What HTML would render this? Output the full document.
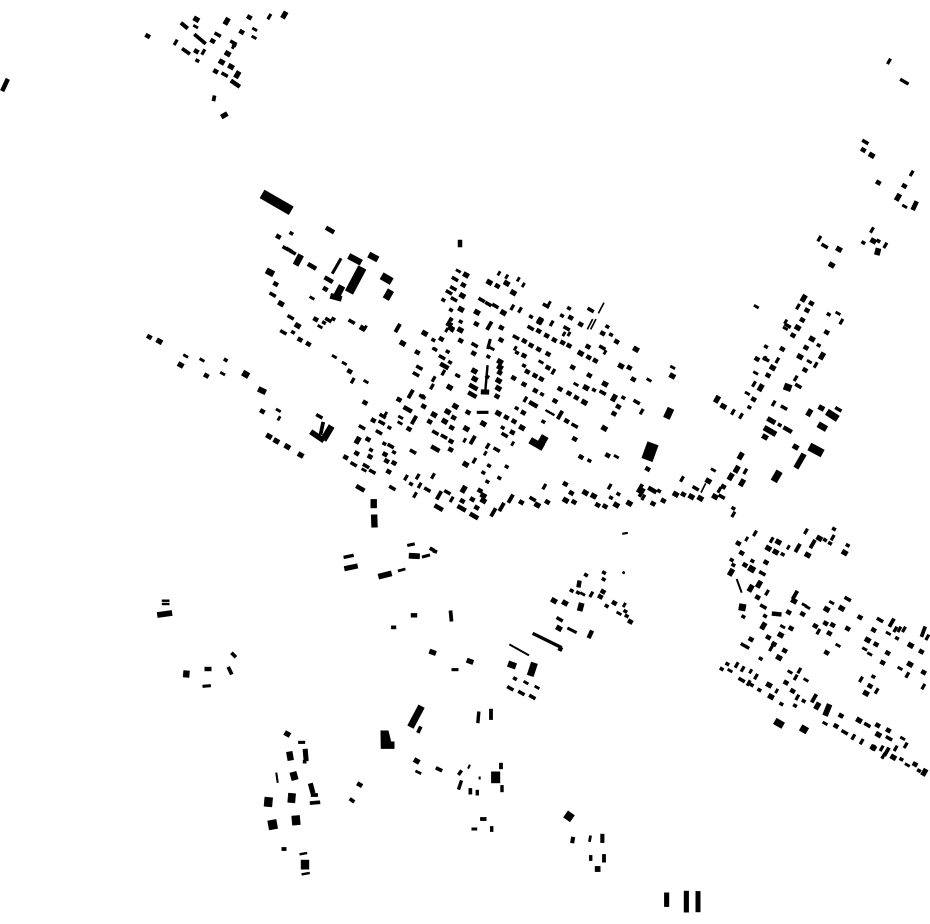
<!DOCTYPE html>
<html><head><meta charset="utf-8"><style>
html,body{margin:0;padding:0;background:#fff}
svg{display:block;position:absolute;left:0;top:0}
polyline{fill:none;stroke:none}
rect,polygon,circle{stroke:#000;stroke-width:1.2}
marker rect{stroke:#000;stroke-width:2.6}
.n{marker:url(#n)}.s{marker:url(#s)}.m{marker:url(#m)}.b{marker:url(#b)}.t{marker:url(#t)}.u{marker:url(#u)}.l{marker:url(#l)}.v{marker:url(#v)}.w{marker:url(#w)}.x{marker:url(#x)}.c{marker:url(#c)}
.k{fill:none;stroke:#000}
</style></head><body>
<svg width="930" height="924" viewBox="0 0 930 924" xmlns="http://www.w3.org/2000/svg">
<defs>
<marker id="n" markerUnits="userSpaceOnUse" markerWidth="1" markerHeight="1" overflow="visible"><rect x="-5" y="-4" width="10" height="8" transform="rotate(30)"/></marker>
<marker id="s" markerUnits="userSpaceOnUse" markerWidth="1" markerHeight="1" overflow="visible"><rect x="-6.5" y="-5.5" width="13" height="11" transform="rotate(30)"/></marker>
<marker id="m" markerUnits="userSpaceOnUse" markerWidth="1" markerHeight="1" overflow="visible"><rect x="-8" y="-6.5" width="16" height="13" transform="rotate(30)"/></marker>
<marker id="b" markerUnits="userSpaceOnUse" markerWidth="1" markerHeight="1" overflow="visible"><rect x="-11" y="-8" width="22" height="16" transform="rotate(30)"/></marker>
<marker id="t" markerUnits="userSpaceOnUse" markerWidth="1" markerHeight="1" overflow="visible"><rect x="-9.500" y="-4" width="19" height="8" transform="rotate(30)"/></marker>
<marker id="u" markerUnits="userSpaceOnUse" markerWidth="1" markerHeight="1" overflow="visible"><rect x="-7" y="-3" width="14" height="6" transform="rotate(30)"/></marker>
<marker id="l" markerUnits="userSpaceOnUse" markerWidth="1" markerHeight="1" overflow="visible"><rect x="-13" y="-5.500" width="26" height="11" transform="rotate(30)"/></marker>
<marker id="v" markerUnits="userSpaceOnUse" markerWidth="1" markerHeight="1" overflow="visible"><rect x="-8" y="-3.500" width="16" height="7" transform="rotate(-60)"/></marker>
<marker id="w" markerUnits="userSpaceOnUse" markerWidth="1" markerHeight="1" overflow="visible"><rect x="-13" y="-4.500" width="26" height="9" transform="rotate(-60)"/></marker>
<marker id="x" markerUnits="userSpaceOnUse" markerWidth="1" markerHeight="1" overflow="visible"><rect x="-10" y="-6.500" width="20" height="13" transform="rotate(-60)"/></marker>
<marker id="c" markerUnits="userSpaceOnUse" markerWidth="1" markerHeight="1" overflow="visible"><rect x="-6" y="-3" width="12" height="6" transform="rotate(-60)"/></marker>
</defs>

<!-- central town -->
<g transform="translate(340 260) scale(.33333)">
<polyline class="m" points="378 45 448 67 500 70 520 98 367 107 363 148 411 157 328 193 361 210 254 220 188 250 329 382 403 333 346 439 323 455 282 464 314 484 379 506 430 491 475 460 546 503 377 613 490 158 600 183 722 280 843 318 888 268 795 372 733 427 793 505 761 708 736 698 677 721 592 735 829 735 868 730 480 305 480 322 476 362 475 385 738 383 404 357 333 205 430 707 430 722 68 205"/>
<polyline class="s" points="370 75 472 78 362 242 304 237 232 277 401 280 409 192 177 419 251 439 341 473 269 485 335 503 333 544 332 569 384 457 100 481 84 538 50 580 90 590 135 583 140 603 162 609 146 635 17 592 207 507 75 428 479 338 471 409 484 203 483 240 367 723 397 718 420 692 410 743 544 727 622 726 676 672 694 699 702 726 773 735 795 739 939 731 692 173 722 193 573 256 668 248 687 257 746 292 766 302 744 260 830 245 868 323 880 358 748 346 698 322 562 335 585 347 604 357 521 354 552 373 586 392 660 387 687 400 709 413 645 423 550 458 680 483 499 472 522 484 517 517 704 537 723 591 803 586 835 440 822 461 923 627 788 220 553 243 596 268 624 282 552 287 596 213 620 227 643 240 624 323 29 334"/>
<polyline class="n" points="310 120 333 150 362 185 333 178 280 240 285 268 323 275 330 307 353 347 445 290 442 350 573 170 687 145 666 167 802 200 813 224 762 390 850 413 552 317 606 403 530 445 610 485 488 503 148 503 133 551 93 570 162 577 447 617 500 620 478 654 442 665 748 602 813 713 835 702 957 693 213 672 531 278 430 638"/>
<polyline class="t" points="345 57 340 85 327 97 342 118 404 255 306 292 238 323 228 343 247 410 66 502 152 558 704 497 125 488 117 517 286 518 312 530 528 232 572 204 470 569 494 525 157 684 578 717 890 426 35 185 262 689 322 697 97 635 41 613 219 575 788 398"/>
<polyline class="u" points="355 33 284 268 13 310 78 365 182 472 180 489 927 360 829 590 708 373 790 398 353 347 603 306"/>
<polyline class="l" points="61 685 296 743 580 433 203 448 286 566 313 318 402 768 937 690 365 745 400 381 397 404"/>
<polyline class="v" points="517 142 540 150 635 190 556 418 613 680 809 680 822 414 905 455 910 712 640 335 38 362 443 558 403 602 335 718 233 650 239 676 225 705 198 653 279 648 281 357 276 380 310 338 53 541"/>
<polyline class="w" points="173 204 212 402 448 197 398 540 660 465 512 716 485 741 460 757 297 706 900 685 905 698 222 480"/>
<polyline class="c" points="477 40 500 50 535 58 550 75 436 580 518 551 374 541 248 410 330 180 76 203 137 462 628 130 526 265 672 222 687 222 795 277 320 210 338 210"/>
<polyline class="x" points="822 414 600 183 53 541 371 688"/>
<polyline class="t" points="425 120 445 132 466 138 618 137 752 150 128 468 78 618 680 205 787 263"/>
<polyline class="u" points="456 266 72 630"/>
<rect transform="translate(930 575) rotate(20)" x="-17" y="-26" width="34" height="52"/>
<rect transform="translate(439 358) rotate(-85)" x="-42" y="-3" width="84" height="6"/>
<rect transform="translate(435 396) rotate(2)" x="-12" y="-7" width="24" height="14"/>
<rect transform="translate(447 252) rotate(-75)" x="-15" y="-4" width="30" height="8"/>
<rect transform="translate(428 457)" x="-17" y="-4" width="34" height="8"/>
<rect transform="translate(630 458) rotate(30)" x="-15" y="-3" width="30" height="6"/>
<rect transform="translate(590 552) rotate(30)" x="-22" y="-10" width="44" height="20"/>
<rect transform="translate(606 545) rotate(-60)" x="-19" y="-11" width="38" height="22"/>
<rect transform="translate(101 731)" x="-9" y="-13" width="18" height="26"/>
<rect transform="translate(103 783) rotate(-2)" x="-9" y="-19" width="18" height="38"/>
<path class="k" stroke-width="5" d="M768 177L752 208M758 177L742 208M792 128L775 160"/>
</g>

<!-- west cluster -->
<g transform="translate(140 180) scale(.33333)">
<rect transform="translate(410 67) rotate(30)" x="-50" y="-14" width="100" height="28"/>
<rect transform="translate(590 258) rotate(-60)" x="-26" y="-4" width="52" height="8"/>
<rect transform="translate(645 238) rotate(28)" x="-21" y="-9" width="42" height="18"/>
<rect transform="translate(700 231) rotate(28)" x="-15" y="-9" width="30" height="18"/>
<rect transform="translate(647 300) rotate(-62)" x="-42" y="-13" width="84" height="26"/>
<rect transform="translate(740 296) rotate(30)" x="-17" y="-11" width="34" height="22"/>
<rect transform="translate(745 344) rotate(-60)" x="-15" y="-10" width="30" height="20"/>
<rect transform="translate(475 240) rotate(-62)" x="-17" y="-9" width="34" height="18"/>
<rect transform="translate(598 333) rotate(-62)" x="-17" y="-10" width="34" height="20"/>
<rect transform="translate(588 352) rotate(15)" x="-17" y="-8" width="34" height="16"/>
<rect transform="translate(366 632) rotate(25)" x="-12" y="-8" width="24" height="16"/>
<rect transform="translate(317 583) rotate(30)" x="-10" y="-9" width="20" height="18"/>
<rect transform="translate(390 277) rotate(28)" x="-12" y="-9" width="24" height="18"/>
<path class="k" stroke-width="17" d="M512 755L552 782"/>
<path class="k" stroke-width="20" d="M550 780L575 738"/>
<rect transform="translate(545 748) rotate(12)" x="-5" y="-22" width="10" height="38"/>
<polyline class="l" points="570 150 516 259 566 299"/>
<polyline class="t" points="448 210 398 344 452 412 430 457 538 709 565 420"/>
<polyline class="t" points="437 205 458 217"/>
<polyline class="s" points="415 170 407 312 480 479 505 492 28 471 199 587 367 694 527 418 556 327"/>
<polyline class="m" points="423 371 473 437 58 484 122 555 387 769 409 783 442 800 482 825"/>
<polyline class="n" points="454 160 459 457 552 428 257 540 580 417"/>
<polyline class="u" points="516 354 540 440 137 528 186 540 248 581 415 691 583 530"/>
<polyline class="c" points="417 715"/>
</g>

<!-- east -->
<g transform="translate(640 280) scale(.33333)">
<polyline class="x" points="491 55 231 358 508 398 546 228 302 528 290 568 272 590 306 608 362 323"/>
<polyline class="s" points="514 70 501 91 487 120 459 166 560 157 498 203 427 207 495 270 351 237 384 286 341 358 130 643 250 620 70 662"/>
<polyline class="m" points="473 143 516 177 480 230 398 263 250 379 544 384 375 471 467 501 205 603 181 655 154 650 107 643 225 650 97 288"/>
<polyline class="n" points="566 103 536 196 378 200 328 382 419 435 280 685"/>
<polyline class="v" points="474 80 604 125 412 241 467 295 342 312 401 370 303 408 279 396 316 574 126 597 280 703 527 255 238 630"/>
<polyline class="u" points="349 80 594 100 436 145 508 245 347 279 322 340 220 570 98 262"/>
<polyline class="t" points="432 383 595 388 245 650 475 318 443 137 167 625"/>
<polyline class="c" points="437 125 375 235"/>
<polyline class="t" points="378 238"/>
<rect transform="translate(443 322) rotate(20)" x="-11" y="-10" width="22" height="20"/>
<rect transform="translate(577 406) rotate(33)" x="-19" y="-10" width="38" height="20"/>
<rect transform="translate(394 422) rotate(30)" x="-13" y="-7" width="26" height="14"/>
<rect transform="translate(390 453) rotate(30)" x="-20" y="-8" width="40" height="16"/>
<rect transform="translate(443 449) rotate(30)" x="-14" y="-6" width="28" height="12"/>
<rect transform="translate(547 440) rotate(30)" x="-14" y="-9" width="28" height="18"/>
<rect transform="translate(528 510) rotate(28)" x="-22" y="-12" width="44" height="24"/>
<rect transform="translate(480 543) rotate(-60)" x="-24" y="-8" width="48" height="16"/>
<rect transform="translate(410 589) rotate(-60)" x="-17" y="-10" width="34" height="20"/>
<rect transform="translate(86 400) rotate(-65)" x="-16" y="-10" width="32" height="20"/>
<path class="k" stroke-width="5" d="M197 610L183 638"/>
</g>

<!-- south-east -->
<g transform="translate(710 520) scale(.33333)">
<polyline class="v" points="288 34 135 40 185 60 368 53 171 218 453 478 500 513 592 465 640 500 652 352 430 651 455 665 587 676 557 685 183 385 325 335 80 435 98 447 138 470 116 489 268 452 257 472 262 532 556 328 568 328 582 328 490 683 515 685 520 708"/>
<polyline class="c" points="110 57 235 82 122 454 200 513"/>
<polyline class="n" points="372 27 218 103 345 60 360 70 413 76 65 120 70 135 127 123 100 290 165 288 152 416 561 355 490 470 35 447 52 432 125 495 148 510 214 552 255 557 281 543 574 718 627 752"/>
<polyline class="s" points="85 70 95 99 105 135 168 127 143 232 236 277 278 282 243 325 175 352 192 372 224 392 123 358 450 292 491 330 316 318 347 310 368 315 358 340 413 326 350 398 498 373 533 399 634 395 518 428 641 457 480 498 228 488 248 513 393 587 503 616 535 631 378 618 615 733"/>
<polyline class="m" points="205 66 175 85 197 96 293 105 328 55 404 98 97 262 252 243 207 413 350 268 395 265 473 360 602 376 600 433 468 520 177 495 183 530 447 601 505 644 490 683 550 712 212 345"/>
<polyline class="t" points="157 160 160 260 413 237 510 300 95 480 472 615 404 637 537 655"/>
<polyline class="u" points="218 320 365 248 535 340 384 376 464 387 479 402 570 445 60 452 240 456 288 480 578 655 345 610 592 735"/>
<polyline class="w" points="263 84 308 72 255 225 545 308 530 695 312 535"/>
<polyline class="x" points="63 157 147 193 122 205 160 318 322 558 643 757"/>
<rect transform="translate(125 147) rotate(30)" x="-10" y="-9" width="20" height="18"/>
<rect transform="translate(97 262) rotate(10)" x="-10" y="-10" width="20" height="20"/>
<rect transform="translate(200 282) rotate(6)" x="-14" y="-6" width="28" height="12"/>
<rect transform="translate(105 378) rotate(30)" x="-14" y="-4.500" width="28" height="9"/>
<rect transform="translate(352 570) rotate(-68)" x="-18" y="-8" width="36" height="16"/>
<rect transform="translate(640 335) rotate(-70)" x="-16" y="-5" width="32" height="10"/>
<rect transform="translate(207 610) rotate(30)" x="-14" y="-10" width="28" height="20"/>
<rect transform="translate(282 628) rotate(30)" x="-11" y="-10" width="22" height="20"/>
<path class="k" stroke-width="6" d="M80 177L95 218"/>
<polyline class="u" points="283 255 293 262"/>
</g>

<!-- north-west hamlet -->
<g transform="translate(140 0) scale(.33333)">
<polyline class="s" points="23 108 328 52 305 96 218 123 169 154 227 214"/>
<polyline class="m" points="169 58 263 161 245 186 273 200"/>
<polyline class="u" points="167 80 344 88 342 112"/>
<polyline class="v" points="388 50 107 127 190 156"/>
<polyline class="x" points="260 64 433 45 292 224"/>
<polyline class="t" points="233 104 254 224 280 128"/>
<polyline class="n" points="172 182 283 135"/>
<polyline class="c" points="280 140"/>
<rect transform="translate(133 77) rotate(40)" x="-13" y="-5.500" width="26" height="11"/>
<rect transform="translate(180 117) rotate(40)" x="-22" y="-5" width="44" height="10"/>
<rect transform="translate(138 154) rotate(35)" x="-14" y="-5" width="28" height="10"/>
<rect transform="translate(286 251) rotate(35)" x="-16" y="-6" width="32" height="12"/>
<rect transform="translate(222 295) rotate(-80)" x="-8" y="-5" width="16" height="10"/>
<rect transform="translate(253 346) rotate(-30)" x="-10" y="-7" width="20" height="14"/>
</g>

<!-- north-east -->
<g transform="translate(810 50) scale(.33333)">
<polyline class="v" points="237 34 305 370 186 540 28 566 226 586"/>
<polyline class="t" points="166 276 44 588"/>
<polyline class="s" points="160 300 205 398 283 408"/>
<polyline class="m" points="185 316 87 598 65 645 190 573"/>
<polyline class="n" points="160 578 205 573"/>
<polyline class="u" points="284 469"/>
<polyline class="x" points="264 442"/>
<rect transform="translate(283 95) rotate(30)" x="-14" y="-4.500" width="28" height="9"/>
<rect transform="translate(314 467) rotate(-65)" x="-14" y="-6.500" width="28" height="13"/>
<rect transform="translate(203 605) rotate(15)" x="-8" y="-10" width="16" height="20"/>
</g>

<!-- south-west -->
<g transform="translate(150 490) scale(.33333)">
<rect transform="translate(596 199) rotate(-12)" x="-15" y="-4.500" width="30" height="9"/>
<rect transform="translate(603 232) rotate(-12)" x="-20" y="-7" width="40" height="14"/>
<rect transform="translate(705 255) rotate(-14)" x="-20" y="-8" width="40" height="16"/>
<rect transform="translate(755 240) rotate(-15)" x="-11" y="-3.500" width="22" height="7"/>
<rect transform="translate(783 164) rotate(-12)" x="-11" y="-4" width="22" height="8"/>
<rect transform="translate(793 198) rotate(3)" x="-16" y="-8" width="32" height="16"/>
<rect transform="translate(828 198) rotate(-15)" x="-12" y="-4" width="24" height="8"/>
<rect transform="translate(846 178) rotate(30)" x="-7" y="-5" width="14" height="10"/>
<rect transform="translate(855 184) rotate(20)" x="-6" y="-5" width="12" height="10"/>
<rect transform="translate(47 332)" x="-11" y="-3" width="22" height="6"/>
<rect transform="translate(47 342)" x="-11" y="-3" width="22" height="6"/>
<rect transform="translate(44 372) rotate(-8)" x="-22" y="-8" width="44" height="16"/>
<rect transform="translate(792 376)" x="-9" y="-6" width="18" height="12"/>
<rect transform="translate(731 412)" x="-7" y="-5" width="14" height="10"/>
<rect transform="translate(848 487) rotate(20)" x="-10" y="-7" width="20" height="14"/>
<rect transform="translate(251 495) rotate(45)" x="-9" y="-5" width="18" height="10"/>
<rect transform="translate(240 542) rotate(65)" x="-12" y="-5" width="24" height="10"/>
<rect transform="translate(174 537)" x="-10" y="-6" width="20" height="12"/>
<rect transform="translate(109 552) rotate(5)" x="-9" y="-10" width="18" height="20"/>
<rect transform="translate(170 588) rotate(-5)" x="-12" y="-4" width="24" height="8"/>
</g>

<!-- south centre -->
<g transform="translate(450 525) scale(.33333)">
<rect transform="translate(525 25) rotate(-10)" x="-8" y="-2.500" width="16" height="5"/>
<rect transform="translate(3 273) rotate(-5)" x="-5" y="-16" width="10" height="32"/>
<rect transform="translate(60 409) rotate(20)" x="-10" y="-7" width="20" height="14"/>
<rect transform="translate(15 434)" x="-10" y="-4" width="20" height="8"/>
<rect transform="translate(186 420) rotate(20)" x="-12" y="-9" width="24" height="18"/>
<rect transform="translate(247 433) rotate(-72)" x="-20" y="-10" width="40" height="20"/>
<rect transform="translate(392 246) rotate(-75)" x="-12" y="-8" width="24" height="16"/>
<rect transform="translate(421 328) rotate(-65)" x="-12" y="-6" width="24" height="12"/>
<rect transform="translate(366 316) rotate(27)" x="-15" y="-4" width="30" height="8"/>
<rect transform="translate(85 577) rotate(-85)" x="-17" y="-4.500" width="34" height="9"/>
<rect transform="translate(123 568)" x="-5" y="-16" width="10" height="32"/>
<path class="k" stroke-width="10" d="M248 325L335 368"/>
<path class="k" stroke-width="6" d="M178 358L237 391"/>
<rect transform="translate(331 372) rotate(25)" x="-6" y="-6" width="12" height="12"/>
<rect transform="translate(387 177) rotate(10)" x="-6" y="-10" width="12" height="20"/>
<polyline class="n" points="408 150 462 143 461 163 365 197 384 203 470 243 526 259 530 273 195 461"/>
<polyline class="c" points="523 240"/>
<polyline class="u" points="398 207 507 265 228 473 261 487"/>
<polyline class="v" points="424 208"/>
<polyline class="s" points="451 215 459 200 493 234 541 290"/>
<polyline class="m" points="312 227 345 234 327 310"/>
<polyline class="t" points="329 283 181 490 214 504 247 516"/>
<circle cx="521" cy="143" r="4"/>
</g>

<!-- south village -->
<g transform="translate(255 700) scale(.33333)">
<polyline class="m" points="97 102 485 183"/>
<rect transform="translate(140 127)" x="-10" y="-4" width="20" height="8"/>
<rect transform="translate(105 168) rotate(-10)" x="-9" y="-13" width="18" height="26"/>
<rect transform="translate(152 165) rotate(-5)" x="-7" y="-18" width="14" height="36"/>
<rect transform="translate(149 185)" x="-5" y="-5" width="10" height="10"/>
<rect transform="translate(117 228) rotate(-15)" x="-10" y="-12" width="20" height="24"/>
<rect transform="translate(66 233) rotate(-8)" x="-2.500" y="-15" width="5" height="30"/>
<rect transform="translate(170 265) rotate(-15)" x="-7" y="-15" width="14" height="30"/>
<rect transform="translate(178 285)" x="-10" y="-5" width="20" height="10"/>
<rect transform="translate(40 306) rotate(5)" x="-12" y="-14" width="24" height="28"/>
<rect transform="translate(110 294) rotate(5)" x="-11" y="-14" width="22" height="28"/>
<rect transform="translate(180 308) rotate(-5)" x="-15" y="-5" width="30" height="10"/>
<rect transform="translate(53 374) rotate(-10)" x="-13" y="-14" width="26" height="28"/>
<rect transform="translate(123 361) rotate(-5)" x="-12" y="-14" width="24" height="28"/>
<rect transform="translate(87 447)" x="-7" y="-5" width="14" height="10"/>
<rect transform="translate(145 461) rotate(-10)" x="-11" y="-3" width="22" height="6"/>
<rect transform="translate(150 494)" x="-12" y="-14" width="24" height="28"/>
<rect transform="translate(152 521) rotate(-10)" x="-12" y="-3" width="24" height="6"/>
<rect transform="translate(314 254) rotate(30)" x="-8" y="-6" width="16" height="12"/>
<rect transform="translate(291 301) rotate(35)" x="-8" y="-5" width="16" height="10"/>
<polygon points="377,92 400,92 408,125 418,125 418,146 378,146"/>
<rect transform="translate(483 50) rotate(28)" x="-10" y="-35" width="20" height="70"/>
<rect transform="translate(493 89) rotate(25)" x="-5" y="-10" width="10" height="20"/>
<rect transform="translate(490 217) rotate(25)" x="-9" y="-3.500" width="18" height="7"/>
<rect transform="translate(552 208) rotate(25)" x="-10" y="-5" width="20" height="10"/>
<rect transform="translate(615 218) rotate(35)" x="-4.500" y="-8" width="9" height="16"/>
<rect transform="translate(642 200) rotate(25)" x="-2.500" y="-6" width="5" height="12"/>
<rect transform="translate(615 255) rotate(18)" x="-4.500" y="-14" width="9" height="28"/>
<rect transform="translate(646 274)" x="-5" y="-9" width="10" height="18"/>
<rect transform="translate(667 278)" x="-4.500" y="-8" width="9" height="16"/>
<rect transform="translate(674 234)" x="-2.500" y="-4" width="5" height="8"/>
<rect transform="translate(722 232)" x="-13" y="-17" width="26" height="34"/>
<rect transform="translate(738 198)" x="-5" y="-9" width="10" height="18"/>
<rect transform="translate(741 266)" x="-4.500" y="-10" width="9" height="20"/>
<rect transform="translate(685 357)" x="-9" y="-5" width="18" height="10"/>
<rect transform="translate(658 387)" x="-8" y="-4" width="16" height="8"/>
<rect transform="translate(710 387)" x="-4.500" y="-8" width="9" height="16"/>
</g>

<!-- far south -->
<g transform="translate(465 760) scale(.33333)">
<rect transform="translate(312 169) rotate(35)" x="-12" y="-12" width="24" height="24"/>
<rect transform="translate(323 240) rotate(10)" x="-5.500" y="-9" width="11" height="18"/>
<rect transform="translate(375 236) rotate(10)" x="-3.500" y="-9" width="7" height="18"/>
<rect transform="translate(412 235)" x="-5.500" y="-13" width="11" height="26"/>
<rect transform="translate(377 294)" x="-4.500" y="-8" width="9" height="16"/>
<rect transform="translate(417 295)" x="-5" y="-12" width="10" height="24"/>
<rect transform="translate(398 327)" x="-8" y="-8" width="16" height="16"/>
<rect transform="translate(605 419)" x="-7" y="-21" width="14" height="42"/>
<rect transform="translate(664 425)" x="-7" y="-32" width="14" height="64"/>
<rect transform="translate(699 425)" x="-7" y="-31" width="14" height="62"/>
</g>

<!-- isolated -->
<rect transform="translate(5 85) rotate(25)" x="-2" y="-6.500" width="4" height="13" style="stroke-width:.5"/>
<rect x="458" y="240" width="4" height="7" style="stroke-width:.5"/>
</svg>
</body></html>
